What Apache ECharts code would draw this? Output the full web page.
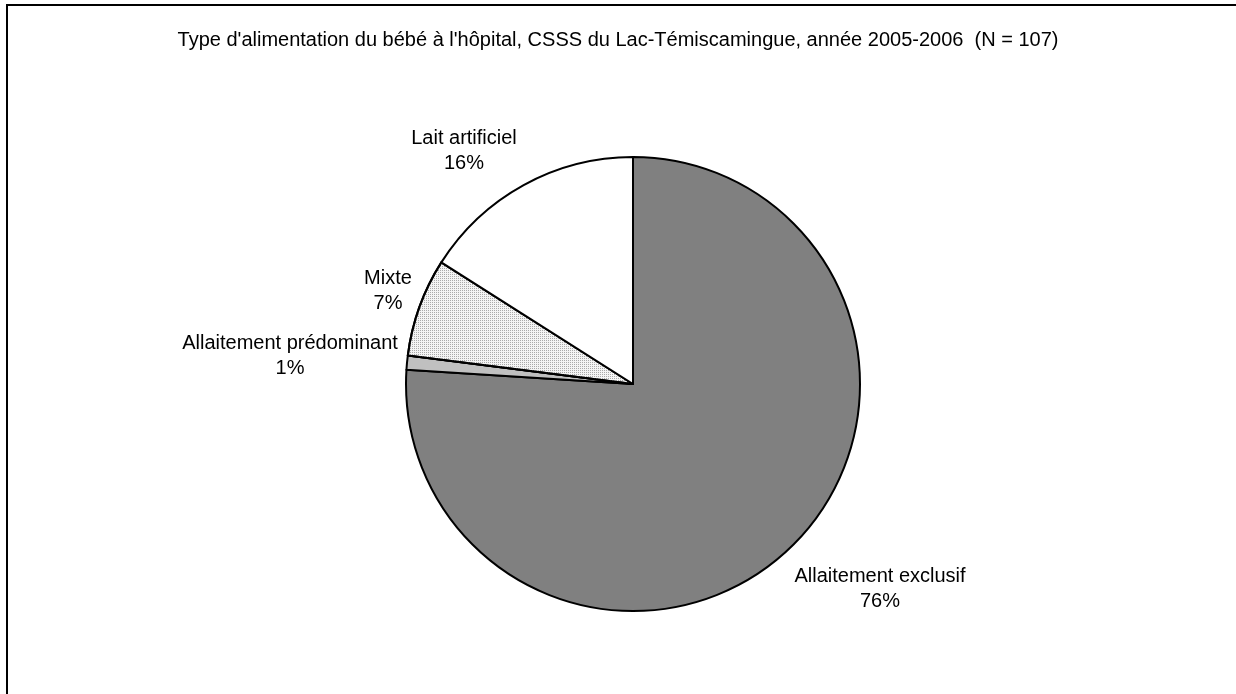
<!DOCTYPE html>
<html>
<head>
<meta charset="utf-8">
<script src="https://cdn.jsdelivr.net/npm/echarts@6.0.0/dist/echarts.min.js"></script>
<style>
  html, body { margin: 0; padding: 0; background: #fff; }
  #chart { width: 1236px; height: 694px; }
</style>
</head>
<body>
<div id="chart"></div>
<script>
var categories = ['Allaitement exclusif', 'Allaitement prédominant', 'Mixte', 'Lait artificiel'];
var percents = [76, 1, 7, 16];
var colors = ['#808080', '#c0c0c0', '#f4f4f4', '#ffffff'];
// where the label blocks sit (centre of each two-line label)
var labelAnchors = [[880, 589], [290, 356], [388, 291], [464, 151]];

var chart = echarts.init(document.getElementById('chart'));

var data = categories.map(function (name, i) {
    var item = {
        name: name,
        value: percents[i],
        itemStyle: { color: colors[i] }
    };
    if (name === 'Mixte') {
        // stippled fill
        item.itemStyle.decal = {
            symbol: 'rect',
            symbolSize: 1,
            color: '#aaaaaa',
            dashArrayX: [1, 1],
            dashArrayY: [1, 1],
            rotation: 0
        };
    }
    return item;
});

var option = {
    backgroundColor: '#fff',
    animation: false,
    title: {
        text: "Type d'alimentation du bébé à l'hôpital, CSSS du Lac-Témiscamingue, année 2005-2006  (N = 107)",
        left: 'center',
        top: 25,
        textStyle: {
            fontFamily: 'Liberation Sans, Arial, sans-serif',
            fontSize: 20,
            fontWeight: 'normal',
            color: '#000'
        }
    },
    graphic: [{
        type: 'rect',
        shape: { x: 7, y: 5, width: 1400, height: 900 },
        style: { fill: null, stroke: '#000', lineWidth: 2 },
        silent: true
    }],
    series: [{
        type: 'pie',
        center: [633, 384],
        radius: 227,
        startAngle: 90,
        clockwise: true,
        avoidLabelOverlap: false,
        itemStyle: { borderColor: '#000', borderWidth: 2 },
        label: {
            show: true,
            position: 'outside',
            formatter: '{b}\n{c}%',
            fontFamily: 'Liberation Sans, Arial, sans-serif',
            fontSize: 20,
            lineHeight: 25,
            color: '#000'
        },
        labelLine: { show: false },
        labelLayout: function (params) {
            var p = labelAnchors[params.dataIndex];
            return { x: p[0], y: p[1], align: 'center', verticalAlign: 'middle' };
        },
        emphasis: { disabled: true },
        data: data
    }]
};

chart.setOption(option);
</script>
</body>
</html>
